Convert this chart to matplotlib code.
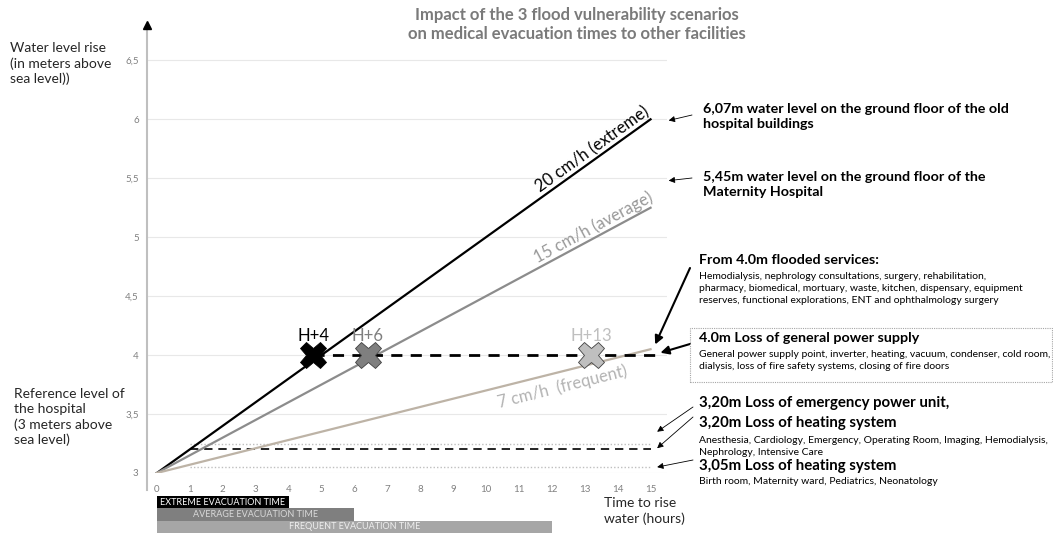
import numpy as np
import matplotlib.pyplot as plt

plt.rcParams['font.family'] = ['Lato', 'DejaVu Sans']

W, H = 1053, 538

# flood scenarios: water level (m) at t=0 and t=15 h
hours = [0, 15]
levels_extreme = [3.0, 6.0]
levels_average = [3.0, 5.25]
levels_frequent = [3.0, 4.05]
line_labels = ['20 cm/h (extreme)', '15 cm/h (average)', '7 cm/h  (frequent)']
line_colors = ['black', '#8c8c8c', '#bdb3a6']

# time when 4.0m is reached (markers)
marker_hours = [4.75, 6.4, 13.2]
marker_labels = ['H+4', 'H+6', 'H+13']
marker_colors = ['black', '#7f7f7f', '#bfbfbf']
power_level = 4.0

# threshold lines
emerg_level = 3.20
dotted_levels = [3.25, 3.05]
thresh_start = 1
thresh_end = 15

# evacuation times (hours)
evac_hours = [4, 6, 12]
evac_labels = ['EXTREME EVACUATION TIME', 'AVERAGE EVACUATION TIME', 'FREQUENT EVACUATION TIME']
evac_colors = ['black', '#7f7f7f', '#a6a6a6']
evac_text_colors = ['white', '#d9d9d9', '#eeeeee']

yticks = [3, 3.5, 4, 4.5, 5, 5.5, 6, 6.5]
yticklabels = ['3', '3,5', '4', '4,5', '5', '5,5', '6', '6,5']
xticks = list(range(16))

fig = plt.figure(figsize=(W / 100, H / 100), dpi=100)
ax = fig.add_axes([147 / W, (H - 473) / H, 520 / W, 448 / H])
ax.set_xlim(-0.3, 15.5)
ax.set_ylim(3, 6.8)
for s in ax.spines.values():
    s.set_visible(False)
ax.set_yticks(yticks)
ax.set_yticklabels(yticklabels)
ax.set_xticks(xticks)
ax.tick_params(length=0, labelsize=7, labelcolor='#808080')
ax.tick_params(axis='x', pad=9)
ax.tick_params(axis='y', pad=6)
ax.grid(axis='y', color='#e8e8e8', lw=0.8)
ax.set_axisbelow(True)

# vertical axis with arrow
ax.plot([-0.3, -0.3], [2.86, 6.78], color='#bfbfbf', lw=1.5, clip_on=False)
ax.plot([-0.3], [6.8], marker='^', color='black', ms=6, clip_on=False)

# threshold lines
for lv in dotted_levels:
    ax.plot([thresh_start, thresh_end], [lv, lv], color='#bfbfbf', lw=1, ls=(0, (1, 1.5)))
ax.plot([thresh_start, thresh_end], [emerg_level, emerg_level], color='black', lw=1.2, ls=(0, (5, 3.5)))

# scenario lines
all_levels = [levels_extreme, levels_average, levels_frequent]
for lv, c in zip(all_levels, line_colors):
    ax.plot(hours, lv, color=c, lw=1.6)

ax.plot([marker_hours[0], 15.3], [power_level, power_level], color='black', lw=2, ls=(0, (4, 3)))

for h, lab, c in zip(marker_hours, marker_labels, marker_colors):
    ax.plot(h, power_level, marker='X', ms=19, color=c, mec='#404040' if c != 'black' else 'black', mew=0.6)
    ax.text(h, power_level + 0.09, lab, ha='center', va='bottom', fontsize=12, color=c)

# rotated labels on the lines
def angle_of(lv):
    p0 = ax.transData.transform((hours[0], lv[0]))
    p1 = ax.transData.transform((hours[1], lv[1]))
    return np.degrees(np.arctan2(p1[1] - p0[1], p1[0] - p0[0]))

label_start = [11.7, 11.6, 10.3]
for lv, lab, c, x0, va, dy in zip(all_levels, line_labels, ['black', '#999999', '#b3b3b3'],
                                  label_start, ['bottom', 'bottom', 'top'], [1.5, 1.5, -5]):
    y0 = np.interp(x0, hours, lv)
    ax.annotate(lab, xy=(x0, y0), xytext=(0, dy), textcoords='offset points',
                rotation=angle_of(lv), rotation_mode='anchor', ha='left', va=va,
                fontsize=12, color=c)

# evacuation bars below the axis
axb = fig.add_axes([147 / W, (H - 533) / H, 520 / W, 37 / H])
axb.set_xlim(-0.3, 15.5)
axb.set_ylim(2.5, -0.5)
axb.axis('off')
axb.barh(range(3), evac_hours, left=0, height=1.0, color=evac_colors)
for i, (h, lab, tc) in enumerate(zip(evac_hours, evac_labels, evac_text_colors)):
    axb.text(h / 2, i, lab, ha='center', va='center', fontsize=6.5, color=tc)

# titles and side labels
fig.text(577 / W, 1 - 7 / H, 'Impact of the 3 flood vulnerability scenarios\non medical evacuation times to other facilities',
         ha='center', va='top', fontsize=12, fontweight='bold', color='#7a7a7a', linespacing=1.25)
fig.text(10 / W, 1 - 42 / H, 'Water level rise\n(in meters above\nsea level))', ha='left', va='top',
         fontsize=10, color='#262626', linespacing=1.3)
fig.text(14 / W, 1 - 388 / H, 'Reference level of\nthe hospital\n(3 meters above\nsea level)', ha='left', va='top',
         fontsize=10, color='#262626', linespacing=1.3)
fig.text(604 / W, 1 - 497 / H, 'Time to rise\nwater (hours)', ha='left', va='top',
         fontsize=10, color='#262626', linespacing=1.3)

# right side annotations
def px(x, y):
    return (x / W, 1 - y / H)

def head(text, x, y, size=10.3):
    fig.text(*px(x, y), text, ha='left', va='top', fontsize=size, fontweight='bold', color='black', linespacing=1.3)

def body(text, x, y):
    fig.text(*px(x, y), text, ha='left', va='top', fontsize=7.5, color='black', linespacing=1.45)

def arrow(x_from, y_from, xy, lw=0.6, hw=0.18):
    ax.annotate('', xy=xy, xycoords='data', xytext=px(x_from, y_from), textcoords='figure fraction',
                arrowprops=dict(arrowstyle='-|>,head_length=%g,head_width=%g' % (hw * 2, hw),
                                color='black', lw=lw, shrinkA=0, shrinkB=0), annotation_clip=False)

head('6,07m water level on the ground floor of the old\nhospital buildings', 703, 103)
arrow(692, 115, (15.55, 5.99))
head('5,45m water level on the ground floor of the\nMaternity Hospital', 703, 171)
arrow(692, 178, (15.55, 5.48))

head('From 4.0m flooded services:', 699, 254)
body('Hemodialysis, nephrology consultations, surgery, rehabilitation,\n'
     'pharmacy, biomedical, mortuary, waste, kitchen, dispensary, equipment\n'
     'reserves, functional explorations, ENT and ophthalmology surgery', 699, 272)
arrow(690, 268, (15.14, 4.09), lw=1.5, hw=0.25)

box = plt.Rectangle(px(690, 382), 362 / W, 54 / H, transform=fig.transFigure, fill=False,
                    ec='#a6a6a6', lw=0.8, ls=(0, (1, 1)))
fig.add_artist(box)
head('4.0m Loss of general power supply', 699, 332)
body('General power supply point, inverter, heating, vacuum, condenser, cold room,\n'
     'dialysis, loss of fire safety systems, closing of fire doors', 699, 350)
arrow(690, 344, (15.3, 4.02), lw=1.5, hw=0.25)

head('3,20m Loss of emergency power unit,', 699, 396, 10.8)
head('3,20m Loss of heating system', 699, 416, 10.8)
body('Anesthesia, Cardiology, Emergency, Operating Room, Imaging, Hemodialysis,\n'
     'Nephrology, Intensive Care', 699, 436)
arrow(693, 407, (15.2, 3.35))
arrow(693, 417, (15.2, 3.21))

head('3,05m Loss of heating system', 699, 459, 10.8)
body('Birth room, Maternity ward, Pediatrics, Neonatology', 699, 477)
arrow(693, 460, (15.2, 3.05))

fig.savefig('out.png', dpi=100)
